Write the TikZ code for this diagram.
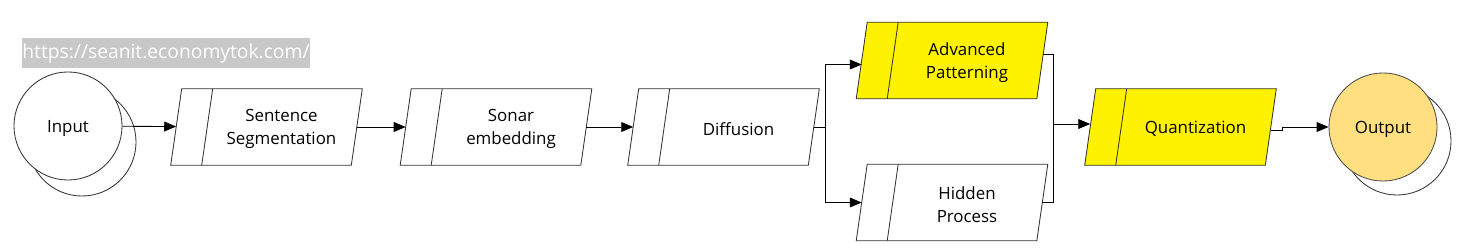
\documentclass[tikz,border=0pt]{standalone}
\usepackage{fontspec}
\setmainfont{Open Sans}
\usepackage{tikz}
\usetikzlibrary{arrows.meta, calc, backgrounds}

\definecolor{outfill}{HTML}{FFDF80}
\definecolor{urlgray}{HTML}{C8C8C8}

\begin{document}
\begin{tikzpicture}[
    x=0.025cm, y=-0.025cm,
    every node/.style={font=\fontsize{12}{16.5}\selectfont},
    proc/.style={rectangle, minimum width=4.5cm, minimum height=1.9cm, inner sep=0pt,
        label={[xshift=0.375cm, yshift=-0.045cm, align=center]center:#1}},
    boxline/.style={draw=black!80, line width=0.6pt},
    term/.style={circle, draw=black!80, fill=white, line width=0.6pt, minimum size=2.7cm, inner sep=0pt, text depth=0pt},
    arr/.style={-{Triangle[length=8.5pt, width=7pt]}, line width=0.6pt},
    wire/.style={line width=0.6pt}
]
\useasboundingbox (0,0) rectangle (1464,248);

\node[fill=urlgray, text=white, font=\fontsize{13.7}{16}\selectfont, minimum width=7.2cm, minimum height=0.75cm, inner sep=0pt] (url) at (166,53) {https://seanit.economytok.com/};

\node[term] (inb) at (82,142) {};
\node[term] (in) at (68,126) {Input};

\node[proc={Sentence\\Segmentation}] (seg) at (266.5,127) {};
\node[proc={Sonar\\embedding}] (sonar) at (496,127) {};
\node[proc={Diffusion}] (diff) at (723.5,127) {};
\node[proc={Advanced\\Patterning}] (adv) at (952,60.5) {};
\node[proc={Hidden\\Process}] (hid) at (952,202.5) {};
\node[proc={Quantization}] (quant) at (1180.5,127) {};

\node[term] (outb) at (1397,141) {};
\node[term, fill=outfill, draw=black!70] (out) at (1383,127) {Output};

% slanted outlines behind the texts
\begin{scope}[on background layer]
\foreach \n/\c in {seg/white, sonar/white, diff/white, adv/yellow, hid/white, quant/yellow} {
    \draw[boxline, fill=\c] ($(\n.south west)+(-5.5,0)$) -- ($(\n.north west)+(5.5,0)$)
        -- ($(\n.north east)+(5.5,0)$) -- ($(\n.south east)+(-5.5,0)$) -- cycle;
    \draw[boxline] ($(\n.south west)+(25.5,0)$) -- ($(\n.north west)+(36.5,0)$);
}
\end{scope}

\draw[arr] (in) -- (seg);
\draw[arr] (seg) -- (sonar);
\draw[arr] (sonar) -- (diff);
\draw[arr] (diff.east) -- ++(12,0) |- ($(adv.west)+(0,4)$);
\draw[arr] (diff.east) -- ++(12,0) |- (hid.west);

\coordinate (join) at (1053,124);
\draw[wire] ($(adv.east)+(1,-6)$) -| (join);
\draw[wire] (hid.east) -| (join);
\draw[arr] (join) -- ($(quant.west)+(0,-3)$);

\draw[arr] ($(quant.east)+(0,3)$) -- ++(12,0) |- (out);
\end{tikzpicture}
\end{document}
